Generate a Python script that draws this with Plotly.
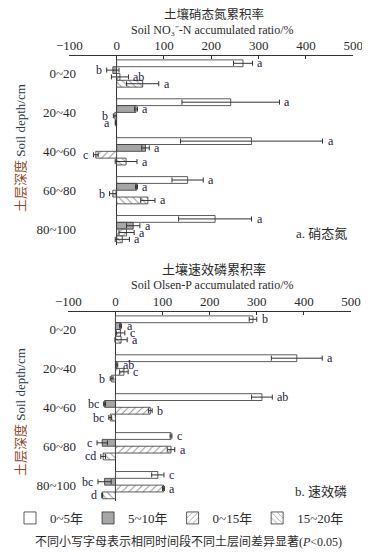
import plotly.graph_objects as go

depths = ["0~20", "20~40", "40~60", "60~80", "80~100"]
periods = ["0~5年", "5~10年", "0~15年", "15~20年"]

# Soil NO3--N accumulated ratio (%)
no3_vals = [
    [267, 241, 285, 150, 208],
    [-8, 41, 61, 42, 35],
    [7, -4, -44, -8, 21],
    [55, -2, 20, 66, 12],
]
no3_err = [
    [20, 103, 150, 33, 77],
    [13, 3, 8, 2, 14],
    [18, 3, 5, 7, 16],
    [34, 1, 23, 15, 15],
]
no3_lab = [
    ["a", "a", "a", "a", "a"],
    ["b", "a", "a", "a", "a"],
    ["ab", "b", "c", "b", "a"],
    ["a", "a", "a", "a", "a"],
]

# Soil Olsen-P accumulated ratio (%)
p_vals = [
    [292, 385, 311, 118, 90],
    [11, 3, -23, -28, -23],
    [11, 18, 74, 118, 102],
    [12, -8, -11, -26, -28],
]
p_err = [
    [8, 54, 22, 2, 13],
    [2, 2, 2, 11, 14],
    [9, 9, 4, 8, 2],
    [13, 3, 3, 5, 1],
]
p_lab = [
    ["b", "a", "ab", "c", "c"],
    ["a", "ab", "bc", "c", "bc"],
    ["c", "c", "b", "a", "a"],
    ["a", "b", "bc", "cd", "d"],
]

x_ticks = [-100, 0, 100, 200, 300, 400, 500]

SERIF = "Liberation Serif, Noto Sans CJK SC, serif"
INK = "#2b2b2b"
LAB = "#1c2340"

# page has an 8px body margin; design in reference-pixel space and offset
OFF = 8
W, H = 370 - OFF, 552 - OFF

def px_x(p):
    return (p - OFF) / W

def px_y(p):
    return 1 - (p - OFF) / H

styles = [
    dict(color="white", pattern=dict(shape="")),
    dict(color="#a6a6a6", pattern=dict(shape="")),
    dict(color="white", pattern=dict(shape="/", size=5, solidity=0.18, fgcolor="#222", bgcolor="white")),
    dict(color="white", pattern=dict(shape="\\", size=5, solidity=0.18, fgcolor="#222", bgcolor="white")),
]

fig = go.Figure()
annotations = []
slot_px = 6.8

for panel, (vals, errs, labs) in enumerate([(no3_vals, no3_err, no3_lab), (p_vals, p_err, p_lab)]):
    xa = "x" if panel == 0 else "x2"
    ya = "y" if panel == 0 else "y2"
    for i in range(4):
        st = styles[i]
        fig.add_trace(go.Bar(
            x=vals[i], y=depths, orientation="h", name=periods[i],
            xaxis=xa, yaxis=ya, showlegend=(panel == 0),
            marker=dict(color=st["color"], pattern=st["pattern"],
                        line=dict(color="#333", width=0.8)),
            error_x=dict(type="data", array=errs[i], visible=True,
                         color="#333", thickness=1, width=2.5),
        ))
        for j, d in enumerate(depths):
            v = vals[i][j]
            e = errs[i][j]
            pos = v >= 0
            annotations.append(dict(
                x=(v + e) if pos else (v - e), y=d, xref=xa, yref=ya,
                text=labs[i][j], showarrow=False,
                xanchor="left" if pos else "right", yanchor="middle",
                xshift=3 if pos else -3,
                yshift=(1.5 - i) * slot_px,
                font=dict(family=SERIF, size=12, color=LAB),
            ))

ax_common = dict(
    range=[-100, 500], tickvals=x_ticks, side="top", showgrid=False,
    showline=True, linecolor="#333", linewidth=1,
    ticks="inside", ticklen=3, tickcolor="#333",
    zeroline=True, zerolinecolor="#333", zerolinewidth=1,
    tickfont=dict(family=SERIF, size=13, color=INK),
    automargin=False, fixedrange=True,
)
ay_common = dict(
    type="category", categoryorder="array", categoryarray=depths,
    range=[4.4, -0.45], showgrid=False, showline=False, zeroline=False,
    ticks="", tickfont=dict(family=SERIF, size=13, color=INK),
    automargin=False, fixedrange=True, anchor="free", position=px_x(76),
)

ytitle = ("<span style='color:#8a4a2a'>土层深度</span> "
          "<span style='color:#2a3a4a'>Soil depth/cm</span>")

def note(text, x, y, size=13, color=INK, angle=0):
    return dict(text=text, x=px_x(x), y=px_y(y), xref="paper", yref="paper",
                xanchor="center", yanchor="middle", textangle=angle,
                showarrow=False, font=dict(family=SERIF, size=size, color=color))

annotations += [
    note("土壤硝态氮累积率", 214, 15, size=12.5),
    note("Soil NO₃⁻-N accumulated ratio/%", 212, 29.5, size=12),
    note("土壤速效磷累积率", 214, 269),
    note("Soil Olsen-P accumulated ratio/%", 212, 285, size=12),
    note(ytitle, 20, 148, angle=-90),
    note(ytitle, 20, 412, angle=-90),
    note("a. 硝态氮", 321, 233),
    note("b. 速效磷", 321, 491),
    note("不同小写字母表示相同时间段不同土层间差异显著(<i>P</i><0.05)", 188, 541, size=12),
]

fig.update_layout(
    width=W, height=H,
    margin=dict(l=0, r=0, t=0, b=0, autoexpand=False),
    paper_bgcolor="white", plot_bgcolor="white",
    barmode="group", bargap=0.3, bargroupgap=0,
    xaxis=dict(domain=[px_x(69.3), px_x(353.3)], anchor="y", **ax_common),
    yaxis=dict(domain=[px_y(244.7), px_y(56)], **ay_common),
    xaxis2=dict(domain=[px_x(68.3), px_x(351)], anchor="y2", **ax_common),
    yaxis2=dict(domain=[px_y(500.7), px_y(312)], **ay_common),
    legend=dict(orientation="h", x=px_x(10), y=px_y(518), xanchor="left", yanchor="middle",
                font=dict(family=SERIF, size=13, color=INK),
                itemwidth=30, traceorder="normal",
                bgcolor="rgba(0,0,0,0)"),
    annotations=annotations,
)

fig.write_html("out.html")
